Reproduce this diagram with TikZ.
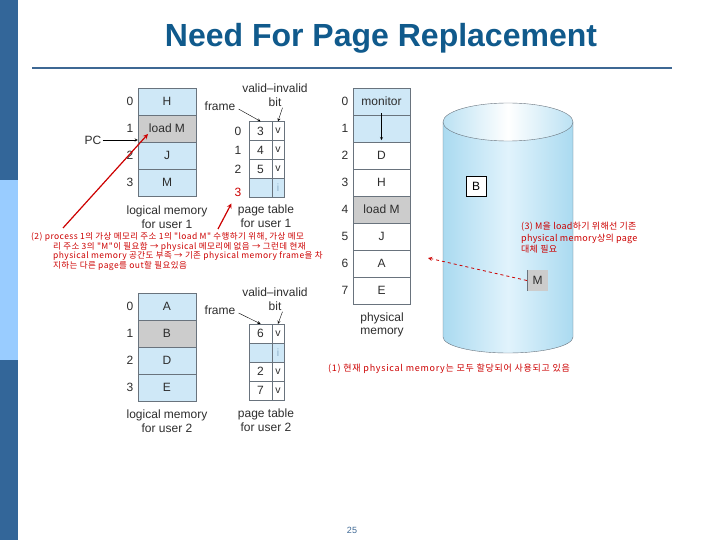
\documentclass[tikz,border=0pt]{standalone}
\usepackage{fontspec}
\setmainfont{Liberation Sans}
\newfontfamily\kr{Noto Sans CJK KR}
\usetikzlibrary{positioning}

\definecolor{barDark}{RGB}{51,102,153}
\definecolor{barLight}{RGB}{153,204,255}
\definecolor{titleBlue}{RGB}{16,90,140}
\definecolor{ruleBlue}{RGB}{62,104,148}
\definecolor{cellBlue}{RGB}{207,232,247}
\definecolor{cellGray}{RGB}{204,204,204}
\definecolor{noteRed}{RGB}{204,0,0}
\definecolor{lineGray}{RGB}{105,115,125}
\definecolor{iBlue}{RGB}{140,175,200}
\definecolor{diskBlue}{RGB}{170,218,240}
\definecolor{diskLight}{RGB}{225,243,252}
\definecolor{textGray}{RGB}{45,45,45}

\tikzset{
  mem/.style={draw=lineGray, minimum width=58pt, minimum height=27pt, inner sep=0pt,
    font=\fontsize{12}{12}\selectfont, text=textGray},
  ptf/.style={draw=lineGray, minimum width=23pt, minimum height=19pt, inner sep=0pt,
    font=\fontsize{12}{12}\selectfont, text=textGray},
  ptb/.style={draw=lineGray, minimum width=12pt, minimum height=19pt, inner sep=0pt,
    font=\fontsize{10.5}{10.5}\selectfont},
  idx/.style={inner sep=1pt, font=\fontsize{12}{12}\selectfont, text=textGray},
  lbl/.style={inner sep=1pt, align=center, font=\fontsize{12}{13.5}\selectfont, text=textGray},
  rednote/.style={inner sep=0pt, align=left, text=noteRed},
}

\begin{document}
\begin{tikzpicture}[x=1pt, y=-1pt, >=stealth]
    \useasboundingbox (0,0) rectangle (720,540);
    % side bar
    \fill[barDark] (0,0) rectangle (18,180);
    \fill[barLight] (0,180) rectangle (18,360);
    \fill[barDark] (0,360) rectangle (18,540);

    % title
    \node[text=titleBlue, font=\fontsize{32}{32}\selectfont\bfseries] (title) at (381,38) {Need For Page Replacement};
    \draw[ruleBlue, line width=2pt] (32,68) -- (672,68);

    % logical memory, user 1
    \foreach \i/\t/\c in {0/H/cellBlue, 1/load M/cellGray, 2/J/cellBlue, 3/M/cellBlue} {
        \node[mem, fill=\c] (lm1-\i) at (167,{101.5+27*\i}) {\t};
        \node[idx] at (130,{101.5+27*\i}) {\i};
    }
    \node[lbl] (lm1-lbl) at (167,217) {logical memory\\for user 1};

    % PC
    \node[idx] (pc) at (93,140) {PC};
    \draw[->] (pc) -- (lm1-1.west |- pc);

    % page table, user 1
    \foreach \i/\f/\v/\c/\tc in {0/3/v/white/textGray, 1/4/v/white/textGray, 2/5/v/white/textGray, 3//i/cellBlue/iBlue} {
        \node[ptf, fill=\c] (pt1-\i) at (260.5,{131+19*\i}) {\f};
        \node[ptb, fill=\c, text=\tc] (pt1b-\i) at (278,{131+19*\i}) {\v};
    }
    \foreach \i in {0,1,2}
        \node[idx] at (238,{131+19*\i}) {\i};
    \node[idx, text=noteRed] (pt1-n3) at (238,192) {3};
    \node[lbl] (frm1) at (220,106) {frame};
    \node[lbl] (vi1) at (275,88) {valid–invalid};
    \node[lbl] (bit1) at (275,102) {bit};
    \draw[->] ([shift={(2pt,-3pt)}]frm1.east) -- (pt1-0.north);
    \draw[->] (bit1.south east) -- (pt1b-0.north);
    \node[lbl] (pt1-lbl) at (266,216) {page table\\for user 1};

    % logical memory, user 2
    \foreach \i/\t/\c in {0/A/cellBlue, 1/B/cellGray, 2/D/cellBlue, 3/E/cellBlue} {
        \node[mem, fill=\c] (lm2-\i) at (167,{306.5+27*\i}) {\t};
        \node[idx] at (130,{306.5+27*\i}) {\i};
    }
    \node[lbl] (lm2-lbl) at (167,421) {logical memory\\for user 2};

    % page table, user 2
    \foreach \i/\f/\v/\c/\tc in {0/6/v/white/textGray, 1//i/cellBlue/iBlue, 2/2/v/white/textGray, 3/7/v/white/textGray} {
        \node[ptf, fill=\c] (pt2-\i) at (260.5,{333.5+19*\i}) {\f};
        \node[ptb, fill=\c, text=\tc] (pt2b-\i) at (278,{333.5+19*\i}) {\v};
    }
    \node[lbl] (frm2) at (220,310) {frame};
    \node[lbl] (vi2) at (275,292) {valid–invalid};
    \node[lbl] (bit2) at (275,306) {bit};
    \draw[->] ([shift={(2pt,-3pt)}]frm2.east) -- (pt2-0.north);
    \draw[->] (bit2.south east) -- (pt2b-0.north);
    \node[lbl] (pt2-lbl) at (266,420) {page table\\for user 2};

    % physical memory
    \foreach \i/\t/\c in {0/monitor/cellBlue, 1//cellBlue, 2/D/white, 3/H/white, 4/load M/cellGray, 5/J/white, 6/A/white, 7/E/white} {
        \node[mem, minimum width=57pt, fill=\c] (pm-\i) at (381.5,{101.5+27*\i}) {\t};
        \node[idx] at (345,{101.5+27*\i}) {\i};
    }
    \draw[->] ([yshift=2pt]pm-0.south) -- ([yshift=2pt]pm-1.south);
    \node[lbl] (pm-lbl) at (382,325) {physical\\memory};

    % backing store
    \draw[draw=lineGray, left color=diskBlue, right color=diskBlue, middle color=diskLight]
        (443,122) -- (443,337) arc[start angle=180, end angle=360, x radius=65pt, y radius=16pt]
        -- (573,122) -- cycle;
    \draw[draw=lineGray, left color=diskBlue!80, right color=diskBlue!80, middle color=white]
        (508,122) ellipse[x radius=65pt, y radius=19pt];
    \node[draw=black, thick, fill=white, minimum size=20pt, inner sep=0pt,
        font=\fontsize{12}{12}\selectfont] (diskB) at (476,186) {B};
    \node[fill=cellGray, minimum size=21pt, inner sep=0pt,
        font=\fontsize{12}{12}\selectfont, text=textGray] (diskM) at (537.5,280.5) {M};
    \draw[lineGray] (diskM.north west) -- (diskM.south west);

    % notes
    \node[rednote, anchor=north west, font=\kr\addfontfeatures{LetterSpace=5}\fontsize{8.5}{9.8}\selectfont] (note2) at (31,232)
        {(2) process 1의 가상 메모리 주소 1의 "load M" 수행하기 위해, 가상 메모\\
         \hspace*{22pt}리 주소 3의 "M"이 필요함 → physical 메모리에 없음 → 그런데 현재\\
         \hspace*{22pt}physical memory 공간도 부족 → 기존 physical memory frame을 차\\
         \hspace*{22pt}지하는 다른 page를 out할 필요있음};
    \coordinate (note2a) at (63,228);
    \coordinate (note2b) at (218,229);
    \draw[noteRed, very thick, ->] (note2a) -- ([shift={(-19pt,-5.5pt)}]lm1-1.center);
    \draw[noteRed, very thick, ->] (note2b) -- ([shift={(-2pt,-6pt)}]pt1-n3.south west);

    \node[rednote, anchor=north west, font=\kr\addfontfeatures{LetterSpace=3}\fontsize{9}{11.5}\selectfont] (note3) at (521,222)
        {(3) M을 load하기 위해선 기존\\physical memory상의 page\\대체 필요};
    \coordinate (frame6tip) at (428,258);
    \draw[noteRed, thick, dashed, ->] (diskM.west) -- (frame6tip);

    \node[rednote, anchor=west, font=\kr\addfontfeatures{LetterSpace=8}\fontsize{9}{10}\selectfont] (note1) at (328,369)
        {(1) 현재 physical memory는 모두 할당되어 사용되고 있음};

    % page number
    \node[text=ruleBlue, font=\fontsize{9}{9}\selectfont] (pgnum) at (352,530) {25};
\end{tikzpicture}
\end{document}
